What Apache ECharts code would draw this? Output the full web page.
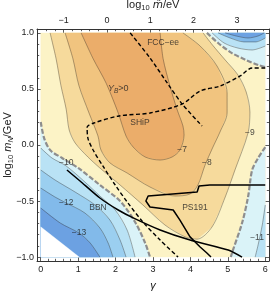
<!DOCTYPE html>
<html><head><meta charset="utf-8">
<script src="https://cdn.jsdelivr.net/npm/echarts@6/dist/echarts.min.js"></script>
<style>html,body{margin:0;padding:0;background:#fff}#c{width:274px;height:292px}</style>
</head><body><div id="c"></div>
<script>
// ---- tick labels ----
const gammaTicks = [0, 1, 2, 3, 4, 5, 6];
const mTildeTicks = [-1, 0, 1, 2, 3];
const logMTicks = [-1, -0.5, 0, 0.5, 1];

// ---- contour lines, points are [gamma, log10 mN/GeV] ----
const contourM7 = [[1.08,1.0],[1.40,0.77],[1.75,0.55],[2.07,0.286],[2.28,0.08],[2.47,-0.018],[2.79,-0.107],[3.19,-0.134],[3.51,-0.107],[3.72,-0.045],[3.83,0.09],[3.80,0.17],[3.64,0.32],[3.45,0.53],[3.27,0.77],[3.19,1.0]];
const contourM8 = [[0.65,1.0],[0.86,0.77],[1.02,0.53],[1.29,0.286],[1.53,0.08],[1.61,-0.045],[1.85,-0.16],[2.31,-0.25],[2.92,-0.375],[3.59,-0.455],[3.99,-0.437],[4.20,-0.357],[4.39,-0.18],[4.59,-0.027],[4.79,0.116],[4.98,0.286],[4.98,0.464],[4.71,0.705],[4.26,0.883],[3.80,1.0]];
const contourM9 = [[0.25,1.0],[0.41,0.77],[0.54,0.53],[0.68,0.32],[0.76,0.134],[0.92,0.018],[1.26,-0.107],[1.58,-0.205],[2.12,-0.357],[2.73,-0.535],[3.32,-0.714],[3.86,-0.82],[4.18,-0.84],[4.58,-0.73],[4.93,-0.464],[5.19,-0.223],[5.54,0.107],[5.59,0.294],[5.49,0.473],[5.27,0.625],[4.93,0.758],[4.59,0.892],[4.34,1.0]];
// Y_B = 0 boundaries (thick grey dashed)
const signLeft = [[0,0.205],[0.09,0.062],[0.25,-0.045],[0.57,-0.116],[1.0,-0.205],[1.58,-0.357],[2.12,-0.50],[2.52,-0.687],[2.79,-0.874],[2.92,-1.0]];
const signRight = [[6,-0.018],[5.81,-0.116],[5.65,-0.223],[5.54,-0.464],[5.38,-0.696],[5.11,-0.964],[5.08,-1.0]];
const signTop = [[4.44,1.0],[4.74,0.91],[5.11,0.82],[5.49,0.758],[5.81,0.714],[6,0.696]];
// Y_B < 0 side contours
const contourL10 = [[0,-0.027],[0.30,-0.116],[0.68,-0.187],[1.18,-0.33],[1.58,-0.455],[1.99,-0.58],[2.31,-0.76],[2.52,-1.0]];
const contourL11 = [[0,-0.223],[0.38,-0.312],[0.92,-0.42],[1.45,-0.535],[1.85,-0.67],[2.12,-0.848],[2.28,-1.0]];
const contourL12 = [[0,-0.384],[0.38,-0.464],[0.68,-0.517],[1.18,-0.607],[1.58,-0.74],[1.80,-0.874],[1.93,-1.0]];
const contourL13 = [[0,-0.562],[0.52,-0.696],[1.02,-0.785],[1.32,-0.874],[1.58,-1.0]];
const noDataCorner = [[0,-0.73],[0,-1],[1.03,-1]];
const contourR11 = [[6,-0.535],[5.92,-0.714],[5.81,-0.89],[5.73,-1.0]];
const contourTopA = [[4.58,1.0],[4.90,0.91],[5.27,0.865],[5.65,0.848],[6,0.883]];
const contourTopB = [[4.74,1.0],[5.06,0.955],[5.43,0.92],[5.75,0.92],[6,0.955]];
const contourTopC = [[4.93,1.0],[5.22,0.973],[5.54,0.955],[5.81,0.973],[5.97,1.0]];
const dataRect = [[0,1],[6,1],[6,-1],[0,-1]];

// ---- experimental curves ----
const fccee = [[2.39,1.0],[2.92,0.776],[3.40,0.544],[3.78,0.366],[4.31,0.17]];
const ship = [[6,0.687],[5.65,0.687],[5.33,0.616],[4.79,0.526],[4.26,0.482],[3.78,0.366],[2.92,0.286],[2.09,0.259],[1.42,0.196],[1.24,0.16],[1.26,0.062],[1.40,-0.045],[1.66,-0.187],[1.99,-0.357],[2.33,-0.517],[2.73,-0.687],[3.19,-0.848],[3.67,-1.0]];
const bbn = [[0.70,-0.223],[1.05,-0.321],[1.58,-0.473],[2.07,-0.58],[2.47,-0.65],[3.19,-0.758],[3.99,-0.848],[5.01,-0.937],[5.38,-1.0]];
const ps191 = [[6,-0.357],[4.52,-0.357],[4.23,-0.366],[4.18,-0.42],[2.87,-0.455],[2.81,-0.50],[2.92,-0.553],[3.54,-0.58],[3.72,-0.67],[3.99,-0.82],[4.26,-0.91],[4.44,-0.964],[4.55,-1.0]];

// ---- in-plot labels ----
const plotLabels = [
  [3.27,0.91,'FCC−ee'],[2.07,0.50,'YB>0'],[2.65,0.196,'SHiP'],
  [3.78,-0.045,'−7'],[4.44,-0.16,'−8'],[5.59,0.107,'−9'],
  [0.68,-0.16,'−10'],[0.68,-0.517,'−12'],[1.02,-0.785,'−13'],
  [1.53,-0.562,'BBN'],[4.12,-0.562,'PS191'],[5.78,-0.83,'−11']
];

const C = {
  orange:'#EBAD6A', ltOrange:'#F1C47F', yellow:'#F6DA9C', cream:'#FCF3C6',
  cyan0:'#DAF3F8', cyan1:'#B9E2F5', blue2:'#9BCFF0', blue3:'#82BAEA', blue4:'#6CA1E2'
};

const regions = [
  {pts: dataRect, color: C.cream},
  {pts: signLeft.concat([[0,-1]]), color: C.cyan0},
  {pts: contourL10.concat([[0,-1]]), color: C.cyan1},
  {pts: contourL11.concat([[0,-1]]), color: C.blue2},
  {pts: contourL12.concat([[0,-1]]), color: C.blue3},
  {pts: contourL13.concat([[0,-1]]), color: C.blue4},
  {pts: noDataCorner, color: '#ffffff'},
  {pts: signRight.concat([[6,-1]]), color: C.cyan0},
  {pts: contourR11.concat([[6,-1]]), color: C.cyan1},
  {pts: signTop.concat([[6,1]]), color: C.cyan0},
  {pts: contourTopA.concat([[6,1]]), color: C.cyan1},
  {pts: contourTopB.concat([[6,1]]), color: C.blue3},
  {pts: contourTopC, color: C.blue4},
  {pts: contourM9, color: C.yellow},
  {pts: contourM8, color: C.ltOrange},
  {pts: contourM7, color: C.orange}
];

function steps(a, b, st, skip) {
  const out = [];
  for (let k = Math.round(a / st); k <= Math.round(b / st); k++) {
    const v = Math.round(k * st * 1000) / 1000;
    if (Math.abs(v / skip - Math.round(v / skip)) > 1e-6) out.push(v);
  }
  return out;
}
const gammaMinor = steps(0.2, 5.8, 0.2, 1);
const mTildeMinor = steps(-1.4, 3.6, 0.2, 1);
const logMMinor = steps(-0.9, 0.9, 0.1, 0.5);

const FONT = 'Liberation Sans';
const lineCol = '#333';
const fmtMinus = v => String(v).replace('-', '−');

function xAx(pos, mn, mx, major, minor, isMajor, extra) {
  return Object.assign({
    type:'value', position:pos, min:mn, max:mx, gridIndex:0,
    axisLine:{show:isMajor, onZero:false, lineStyle:{color:lineCol, width:1}},
    axisTick:{show:true, inside:true, length:isMajor?4:2.2, customValues:isMajor?major:minor, lineStyle:{color:lineCol, width:0.8}},
    axisLabel:{show:isMajor && major.length>0, customValues:major, fontFamily:FONT, fontSize:9, color:'#222', margin:4, formatter:fmtMinus},
    splitLine:{show:false}, nameMoveOverlap:false
  }, extra||{});
}

const option = {
  animation:false,
  backgroundColor:'#fff',
  grid:{left:37, top:29, width:232, height:232, containLabel:false, outerBoundsMode:'none'},
  xAxis:[
    xAx('bottom', -0.1, 6.1, gammaTicks, gammaMinor, true, {
      name:'γ', nameLocation:'middle', nameGap:19,
      nameTextStyle:{fontFamily:FONT, fontSize:11, fontStyle:'italic', color:'#222'}
    }),
    xAx('bottom', -0.1, 6.1, gammaTicks, gammaMinor, false),
    xAx('top', -1.617, 3.741, mTildeTicks, mTildeMinor, true, {
      name:'{n|log}{s|10}{n| }{i|m\u0303}{n|/eV}', nameLocation:'middle', nameGap:17,
      nameTextStyle:{fontFamily:FONT, color:'#222', rich:{
        n:{fontFamily:FONT, fontSize:11, color:'#222'},
        i:{fontFamily:'DejaVu Sans', fontSize:10.5, fontStyle:'italic', color:'#222'},
        s:{fontFamily:FONT, fontSize:7.5, color:'#222', padding:[6,0,0,0]}
      }}
    }),
    xAx('top', -1.617, 3.741, mTildeTicks, mTildeMinor, false)
  ],
  yAxis:[
    xAx('left', -1.035, 1.035, logMTicks, logMMinor, true, {
      axisLabel:{show:true, customValues:logMTicks, fontFamily:FONT, fontSize:9, color:'#222', margin:3,
        formatter:v => fmtMinus(Number(v).toFixed(1))},
      name:'{n|log}{s|10}{n| }{i|m}{t|N}{n|/GeV}', nameLocation:'middle', nameGap:22, nameRotate:90,
      nameTextStyle:{fontFamily:FONT, color:'#222', rich:{
        n:{fontFamily:FONT, fontSize:11, color:'#222'},
        i:{fontFamily:FONT, fontSize:11, fontStyle:'italic', color:'#222'},
        s:{fontFamily:FONT, fontSize:7.5, color:'#222', padding:[6,0,0,0]},
        t:{fontFamily:FONT, fontSize:7.5, fontStyle:'italic', color:'#222', padding:[6,0,0,0]}
      }}
    }),
    xAx('left', -1.035, 1.035, logMTicks, logMMinor, false),
    xAx('right', -1.035, 1.035, [], logMMinor, true, {axisTick:{show:true, inside:true, length:4, customValues:logMTicks, lineStyle:{color:lineCol, width:0.8}}, axisLabel:{show:false}}),
    xAx('right', -1.035, 1.035, logMTicks, logMMinor, false)
  ],
  series:[]
};

// filled contour regions
option.series.push({
  type:'custom', coordinateSystem:'cartesian2d', xAxisIndex:0, yAxisIndex:0, silent:true, z:1,
  data: regions.map(r => r.pts[0]),
  renderItem:(params, api) => {
    const r = regions[params.dataIndex];
    return {type:'polygon', shape:{points:r.pts.map(p => api.coord(p))}, style:{fill:r.color, stroke:r.color, lineWidth:0.3}};
  }
});

function lineSeries(pts, style, z) {
  return {type:'line', xAxisIndex:0, yAxisIndex:0, data:pts, showSymbol:false, symbol:'none', smooth:0.3,
    lineStyle:style, silent:true, z:z||3, clip:true};
}
const thin = {color:'rgba(50,45,40,0.55)', width:0.7};
[contourM7, contourM8, contourM9, contourL10, contourL11, contourL12, contourL13, contourR11, contourTopA, contourTopB, contourTopC]
  .forEach(c => option.series.push(lineSeries(c, thin)));
const signStyle = {color:'#8e8e8e', width:2.2, type:[5,2]};
[signLeft, signRight, signTop].forEach(c => option.series.push(lineSeries(c, signStyle, 4)));
const dashBlack = {color:'#000', width:1.4, type:[4,2.5]};
option.series.push(lineSeries(fccee, dashBlack, 5));
option.series.push(lineSeries(ship, dashBlack, 5));
const solidBlack = {color:'#000', width:1.5};
option.series.push(Object.assign(lineSeries(bbn, solidBlack, 5), {smooth:0.2}));
option.series.push(Object.assign(lineSeries(ps191, solidBlack, 5), {smooth:false}));

// text labels
option.series.push({
  type:'scatter', xAxisIndex:0, yAxisIndex:0, z:8, silent:true, symbolSize:0,
  itemStyle:{color:'rgba(0,0,0,0)'},
  data: plotLabels.map(t => ({value:[t[0], t[1]], name:t[2]})),
  label:{show:true, position:'inside', fontFamily:FONT, fontSize:8.5, color:'#222',
    formatter:p => p.name === 'YB>0' ? '{i|Y}{b|B}{n|>0}' : p.name,
    rich:{
      i:{fontFamily:FONT, fontSize:9, fontStyle:'italic', color:'#222'},
      b:{fontFamily:FONT, fontSize:6.5, fontStyle:'italic', color:'#222', padding:[5,0,0,0]},
      n:{fontFamily:FONT, fontSize:9, color:'#222'}
    }}
});

const chart = echarts.init(document.getElementById('c'));
chart.setOption(option);
</script>
</body></html>
